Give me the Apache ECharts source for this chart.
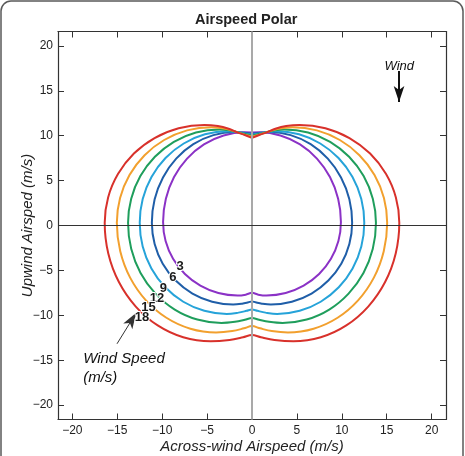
<!DOCTYPE html>
<html>
<head>
<meta charset="utf-8">
<script src="https://cdn.jsdelivr.net/npm/echarts@6/dist/echarts.min.js"></script>
<style>
  html, body { margin: 0; padding: 0; background: #fff; }
  #airspeedPolar { width: 465px; height: 456px; }
</style>
</head>
<body>
<div id="airspeedPolar"></div>
<script>
// right halves of each curve (top x=0 -> right side -> bottom x=0)
var wind3 = [[0,10.35],[0.8,10.37],[3.16,10.03],[5.35,9.03],[7.23,7.45],[8.68,5.39],[9.59,2.98],[9.9,0.4],[9.62,-1.72],[8.79,-3.7],[7.47,-5.4],[5.75,-6.7],[3.75,-7.52],[1.6,-7.8],[0.7,-7.7],[0,-7.5]];
var wind6 = [[0,10.22],[0.9,10.33],[1.9,10.4],[4.3,10.06],[6.53,9.05],[8.44,7.44],[9.91,5.35],[10.84,2.92],[11.15,0.3],[10.84,-2.06],[9.94,-4.25],[8.5,-6.13],[6.63,-7.58],[4.44,-8.49],[2.1,-8.8],[1.1,-8.7],[0.4,-8.55],[0,-8.45]];
var wind9 = [[0,10.1],[0.9,10.25],[1.7,10.4],[2.7,10.5],[5.24,10.15],[7.6,9.13],[9.63,7.51],[11.19,5.4],[12.17,2.94],[12.5,0.3],[12.17,-2.33],[11.2,-4.78],[9.66,-6.88],[7.65,-8.49],[5.31,-9.5],[2.8,-9.85],[1.5,-9.7],[0.6,-9.5],[0,-9.35]];
var wind12 = [[0,10.0],[0.8,10.18],[1.7,10.4],[2.6,10.6],[3.6,10.7],[6.24,10.35],[8.7,9.31],[10.81,7.65],[12.43,5.5],[13.45,2.99],[13.8,0.3],[13.45,-2.59],[12.41,-5.28],[10.75,-7.58],[8.6,-9.36],[6.09,-10.47],[3.4,-10.85],[1.9,-10.72],[0.8,-10.5],[0,-10.3]];
var wind15 = [[0,9.88],[0.8,10.12],[1.7,10.4],[2.8,10.75],[4.5,10.95],[7.23,10.59],[9.78,9.52],[11.96,7.83],[13.64,5.63],[14.69,3.06],[15.05,0.3],[14.67,-2.86],[13.57,-5.8],[11.81,-8.33],[9.53,-10.27],[6.86,-11.49],[4.0,-11.9],[2.2,-11.75],[0.9,-11.45],[0,-11.2]];
var wind18 = [[0,9.75],[0.8,10.08],[1.7,10.4],[2.6,10.78],[3.8,11.08],[5.3,11.2],[8.17,10.83],[10.85,9.74],[13.15,8.01],[14.91,5.75],[16.02,3.12],[16.4,0.3],[16.0,-3.12],[14.82,-6.3],[12.94,-9.03],[10.5,-11.13],[7.66,-12.45],[4.6,-12.9],[2.5,-12.75],[1.0,-12.45],[0,-12.2]];

var windSpeeds = ['3', '6', '9', '12', '15', '18'];
var curveColors = ['#8b32c6', '#1f5ea8', '#26a3d9', '#1f9e5c', '#f2a02e', '#d8312b'];
var labelPositions = [[-8.0,-4.55],[-8.81,-5.8],[-9.86,-6.98],[-10.59,-8.1],[-11.52,-9.12],[-12.26,-10.22]];

// the curves are symmetric about x = 0: close each half with its mirror image
function closeCurve(half) {
    var left = half.slice(0, -1).reverse().map(function (p) { return [-p[0], p[1]]; });
    return half.concat(left);
}

var halves = [wind3, wind6, wind9, wind12, wind15, wind18];
var fontName = '"Liberation Sans", Arial, Helvetica, sans-serif';

function tickText(v) {
    if (Math.abs(v % 5) > 1e-6) return '';
    return String(v).replace('-', '\u2212');
}

var series = [];
// zero lines
series.push({
    type: 'scatter',
    z: 1,
    silent: true,
    symbolSize: 0,
    data: [],
    markLine: {
        silent: true,
        symbol: 'none',
        animation: false,
        label: { show: false },
        data: [
            { xAxis: 0, lineStyle: { color: '#a9a9a9', width: 2, type: 'solid' } },
            { yAxis: 0, lineStyle: { color: '#333', width: 1, type: 'solid' } }
        ]
    }
});
halves.forEach(function (half, i) {
    series.push({
        name: windSpeeds[i],
        type: 'line',
        z: 3,
        data: closeCurve(half),
        symbol: 'none',
        smooth: 0.35,
        lineStyle: { color: curveColors[i], width: 2 },
        silent: true
    });
});
series.push({
    type: 'scatter',
    z: 5,
    silent: true,
    symbolSize: 0,
    data: labelPositions.map(function (p, i) { return [p[0], p[1], windSpeeds[i]]; }),
    label: {
        show: true,
        position: 'inside',
        formatter: function (p) { return p.value[2]; },
        color: '#1a1a1a',
        opacity: 1,
        fontSize: 13,
        fontWeight: 'bold',
        fontFamily: fontName,
        textBorderColor: '#fff',
        textBorderWidth: 2
    }
});
series.push({
    type: 'scatter',
    z: 5,
    silent: true,
    symbolSize: 0,
    data: [
        { value: [-18.8, -15.85], label: { formatter: 'Wind Speed\n(m/s)', fontSize: 15, lineHeight: 19, align: 'left' } },
        { value: [16.4, 17.72], label: { formatter: 'Wind', fontSize: 13, align: 'center' } }
    ],
    label: {
        show: true,
        position: 'inside',
        color: '#111',
        opacity: 1,
        fontStyle: 'italic',
        fontFamily: fontName,
        verticalAlign: 'middle'
    },
    markLine: {
        silent: true,
        animation: false,
        symbol: ['none', 'arrow'],
        label: { show: false },
        data: [
            [{ coord: [16.37, 17.2], symbolSize: [8, 10], lineStyle: { color: '#111', width: 2, type: 'solid' } },
             { coord: [16.37, 13.76] }],
            [{ coord: [-15.03, -13.17], symbolSize: [5, 7], lineStyle: { color: '#333', width: 1, type: 'solid' } },
             { coord: [-12.89, -9.72] }]
        ]
    }
});

function valueAxis(pos, show) {
    return {
        type: 'value',
        position: pos,
        min: -21.6,
        max: 21.6,
        splitNumber: 8,
        axisLine: { show: true, onZero: false, lineStyle: { color: '#333', width: 1.2 } },
        axisTick: { show: true, inside: true, length: 6, lineStyle: { color: '#333', width: 1 } },
        splitLine: { show: false },
        axisLabel: {
            show: show,
            margin: 5,
            fontSize: 12,
            color: '#222',
            fontFamily: fontName,
            formatter: tickText
        }
    };
}

var xBottom = valueAxis('bottom', true);
xBottom.name = 'Across-wind Airspeed (m/s)';
xBottom.nameLocation = 'middle';
xBottom.nameGap = 20;
xBottom.nameMoveOverlap = false;
xBottom.nameTextStyle = { fontSize: 15, fontStyle: 'italic', color: '#222', fontFamily: fontName };
var yLeft = valueAxis('left', true);
yLeft.name = 'Upwind Airsped (m/s)';
yLeft.nameLocation = 'middle';
yLeft.nameGap = 23;
yLeft.nameMoveOverlap = false;
yLeft.nameTextStyle = { fontSize: 15, fontStyle: 'italic', color: '#222', fontFamily: fontName };

var option = {
    animation: false,
    backgroundColor: '#fff',
    title: {
        text: 'Airspeed Polar',
        left: 195,
        top: 12,
        padding: 0,
        textStyle: { fontSize: 14.5, fontWeight: 'bold', color: '#222', fontFamily: fontName }
    },
    grid: { left: 58, right: 19, top: 31.5, bottom: 36.5, containLabel: false, outerBoundsMode: 'none' },
    xAxis: [xBottom, valueAxis('top', false)],
    yAxis: [yLeft, valueAxis('right', false)],
    graphic: [{
        type: 'rect',
        silent: true,
        shape: { x: 1, y: 1, width: 462, height: 490, r: 10 },
        style: { fill: 'none', stroke: '#5a5a5a', lineWidth: 1.5 }
    }],
    series: series
};

var dom = document.getElementById('airspeedPolar');
var myChart = echarts.init(dom, null, { renderer: 'canvas' });
myChart.setOption(option, true);
</script>
</body>
</html>
